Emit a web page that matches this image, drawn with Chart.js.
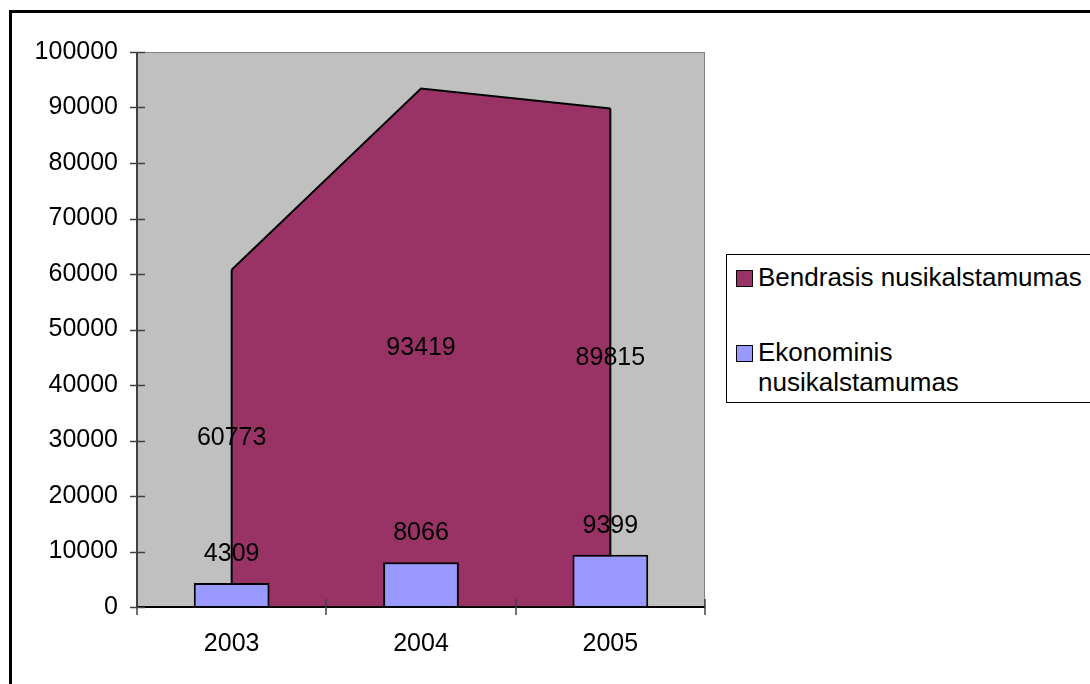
<!DOCTYPE html>
<html>
<head>
<meta charset="utf-8">
<script src="https://cdn.jsdelivr.net/npm/chart.js@4/dist/chart.umd.min.js"></script>
<style>
  html, body { margin: 0; padding: 0; background: #fff; overflow: hidden; width: 1090px; height: 684px; }
  #frame { position: absolute; left: 9px; top: 10px; width: 1200px; height: 800px; border-left: 3px solid #000; border-top: 3px solid #000; box-sizing: border-box; }
  #chart { position: absolute; left: 0; top: 0; }
  #legend { position: absolute; left: 726px; top: 254px; width: 400px; height: 149px; border: 1px solid #000; box-sizing: border-box; background: #fff;
            font-family: "Liberation Sans", Arial, sans-serif; font-size: 26px; color: #000; }
  .item { position: absolute; left: 9px; display: flex; align-items: flex-start; }
  .sw { width: 15px; height: 15px; border: 1px solid #000; margin-right: 5px; margin-top: 8px; flex: none; }
  .txt { line-height: 30px; width: 330px; white-space: pre; }
</style>
</head>
<body>
<div id="frame"></div>
<canvas id="chart" width="1090" height="684"></canvas>
<div id="legend"></div>
<script>
const categories = ["2003", "2004", "2005"];
const totalCrime = [60773, 93419, 89815];
const economicCrime = [4309, 8066, 9399];
const seriesNames = ["Bendrasis nusikalstamumas", "Ekonominis nusikalstamumas"];
const seriesColors = ["#993366", "#9999FF"];

const FONT = '"Liberation Sans", Arial, sans-serif';

const plotBg = {
  id: 'plotBg',
  beforeDatasetsDraw(chart) {
    const a = chart.chartArea, ctx = chart.ctx;
    ctx.save();
    ctx.fillStyle = '#C0C0C0';
    ctx.fillRect(a.left, a.top, a.right - a.left, a.bottom - a.top);
    ctx.strokeStyle = '#808080';
    ctx.lineWidth = 1;
    ctx.strokeRect(a.left + 0.5, a.top + 0.5, a.right - a.left - 1, a.bottom - a.top);
    ctx.restore();
  },
  afterDatasetDraw(chart, args) {
    if (args.index !== 0) return;
    const ctx = chart.ctx;
    const zero = chart.scales.y.getPixelForValue(0);
    const pts = args.meta.data;
    ctx.save();
    ctx.strokeStyle = '#000';
    ctx.lineWidth = 2;
    [pts[0], pts[pts.length - 1]].forEach(p => {
      ctx.beginPath();
      ctx.moveTo(p.x, p.y);
      ctx.lineTo(p.x, zero);
      ctx.stroke();
    });
    ctx.restore();
  }
};

const extras = {
  id: 'extras',
  afterDatasetsDraw(chart) {
    const ctx = chart.ctx, a = chart.chartArea;
    const ys = chart.scales.y;
    const zero = ys.getPixelForValue(0);
    ctx.save();
    // axis lines
    ctx.strokeStyle = '#404040';
    ctx.lineWidth = 2;
    ctx.beginPath(); ctx.moveTo(a.left, a.top); ctx.lineTo(a.left, a.bottom + 1); ctx.stroke();
    ctx.strokeStyle = '#000';
    ctx.beginPath(); ctx.moveTo(a.left, a.bottom); ctx.lineTo(a.right, a.bottom); ctx.stroke();
    // crossing tick marks
    ctx.strokeStyle = '#404040';
    ctx.lineWidth = 1.5;
    ys.ticks.forEach((t, i) => {
      const y = Math.round(ys.getPixelForTick(i)) + 0.5;
      ctx.beginPath(); ctx.moveTo(a.left - 7, y); ctx.lineTo(a.left + 8, y); ctx.stroke();
    });
    const n = categories.length;
    const w = (a.right - a.left) / n;
    for (let i = 0; i <= n; i++) {
      const x = Math.round(a.left + i * w);
      ctx.beginPath(); ctx.moveTo(x, a.bottom - 8); ctx.lineTo(x, a.bottom + 8); ctx.stroke();
    }
    // data labels
    ctx.fillStyle = '#000';
    ctx.font = '25px ' + FONT;
    ctx.textAlign = 'center';
    ctx.textBaseline = 'middle';
    chart.getDatasetMeta(0).data.forEach((p, i) => {
      ctx.fillText(String(totalCrime[i]), p.x, (p.y + zero) / 2);
    });
    chart.getDatasetMeta(1).data.forEach((b, i) => {
      ctx.fillText(String(economicCrime[i]), b.x, b.y - 29);
    });
    ctx.restore();
  }
};

new Chart(document.getElementById('chart'), {
  type: 'bar',
  data: {
    labels: categories,
    datasets: [
      {
        type: 'line',
        label: seriesNames[0],
        data: totalCrime,
        fill: 'origin',
        backgroundColor: seriesColors[0],
        borderColor: '#000',
        borderWidth: 2,
        pointRadius: 0,
        tension: 0,
        order: 1
      },
      {
        type: 'bar',
        label: seriesNames[1],
        data: economicCrime,
        backgroundColor: seriesColors[1],
        borderColor: '#000',
        borderWidth: 2,
        barPercentage: 0.4,
        categoryPercentage: 1,
        order: 0
      }
    ]
  },
  options: {
    responsive: false,
    animation: false,
    layout: { padding: { left: 10, top: 52, right: 385, bottom: 0 } },
    plugins: { legend: { display: false }, tooltip: { enabled: false } },
    scales: {
      x: {
        grid: { display: false, drawTicks: false, tickLength: 0 },
        border: { display: false },
        ticks: { color: '#000', font: { family: FONT, size: 25 }, padding: 22, maxRotation: 0 },
        afterFit(s) { s.height = 77; }
      },
      y: {
        min: 0, max: 100000,
        grid: { display: false, drawTicks: false, tickLength: 0 },
        border: { display: false },
        ticks: { stepSize: 10000, color: '#000', font: { family: FONT, size: 25 }, padding: 19,
                 callback: v => String(v) },
        afterFit(s) { s.width = 127; }
      }
    }
  },
  plugins: [plotBg, extras]
});

// HTML legend built from series arrays
const leg = document.getElementById('legend');
const tops = [7, 82];
seriesNames.forEach((name, i) => {
  const it = document.createElement('div');
  it.className = 'item';
  it.style.top = tops[i] + 'px';
  const sw = document.createElement('div');
  sw.className = 'sw';
  sw.style.background = seriesColors[i];
  const tx = document.createElement('div');
  tx.className = 'txt';
  tx.textContent = i === 1 ? name.replace(' ', '\n') : name;
  it.appendChild(sw); it.appendChild(tx);
  leg.appendChild(it);
});
</script>
</body>
</html>
